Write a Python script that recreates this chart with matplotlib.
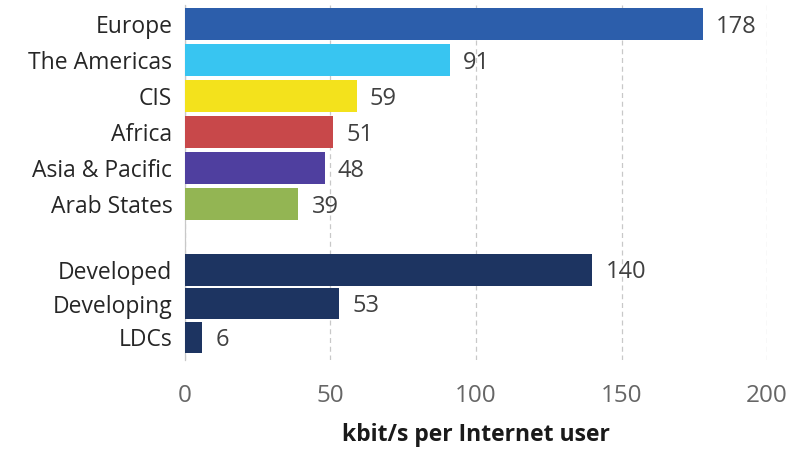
import numpy as np
from matplotlib import pyplot as plt

labelfont = 16.5
valuefont = 17
tickfont = 17.5

regions = ['Europe', 'The Americas', 'CIS', 'Africa', 'Asia & Pacific', 'Arab States']
region_values = [178, 91, 59, 51, 48, 39]
region_colors = ['#2c5eab', '#38c5f1', '#f3e21c', '#c8484a', '#4f3f9f', '#93b553']

groups = ['Developed', 'Developing', 'LDCs']
group_values = [140, 53, 6]
group_color = '#1d3461'

xticks = [0, 50, 100, 150, 200]

plt.rcParams['font.family'] = ['Open Sans', 'DejaVu Sans']

fig = plt.figure(figsize=(7.9, 4.57), dpi=100)
ax = fig.add_axes([0.234, 0.212, 0.737, 0.777])

# regions sit on a regular pitch, the development groups below a gap
ypos = list(np.arange(len(regions))) + [6.82, 7.76, 8.7]
labels = regions + groups
values = region_values + group_values
colors = region_colors + [group_color] * len(groups)

ax.barh(ypos, values, height=0.88, color=colors, zorder=3)

for y, v in zip(ypos, values):
    ax.text(v + 4.5, y + 0.07, str(v), va='center', ha='left',
            fontsize=valuefont, color='#404040')

ax.set_yticks(ypos)
ax.set_yticklabels(labels, fontsize=labelfont, color='#262626')
ax.set_ylim(9.33, -0.53)
ax.set_xlim(0, 200)
ax.set_xticks(xticks)
ax.set_xticklabels([str(t) for t in xticks], fontsize=tickfont, color='#666666')
ax.tick_params(axis='both', length=0)
ax.tick_params(axis='x', pad=17)
ax.tick_params(axis='y', pad=9)

ax.grid(axis='x', ls=(0, (4, 3)), color='#c8c8c8', lw=0.9, zorder=0)
for side in ['top', 'right', 'bottom']:
    ax.spines[side].set_visible(False)
ax.spines['left'].set_color('#c8c8c8')
ax.spines['left'].set_linewidth(0.9)

ax.set_xlabel('kbit/s per Internet user', fontsize=labelfont, fontweight='bold',
              color='#1a1a1a', labelpad=11)

fig.savefig('out.png', dpi=100)
